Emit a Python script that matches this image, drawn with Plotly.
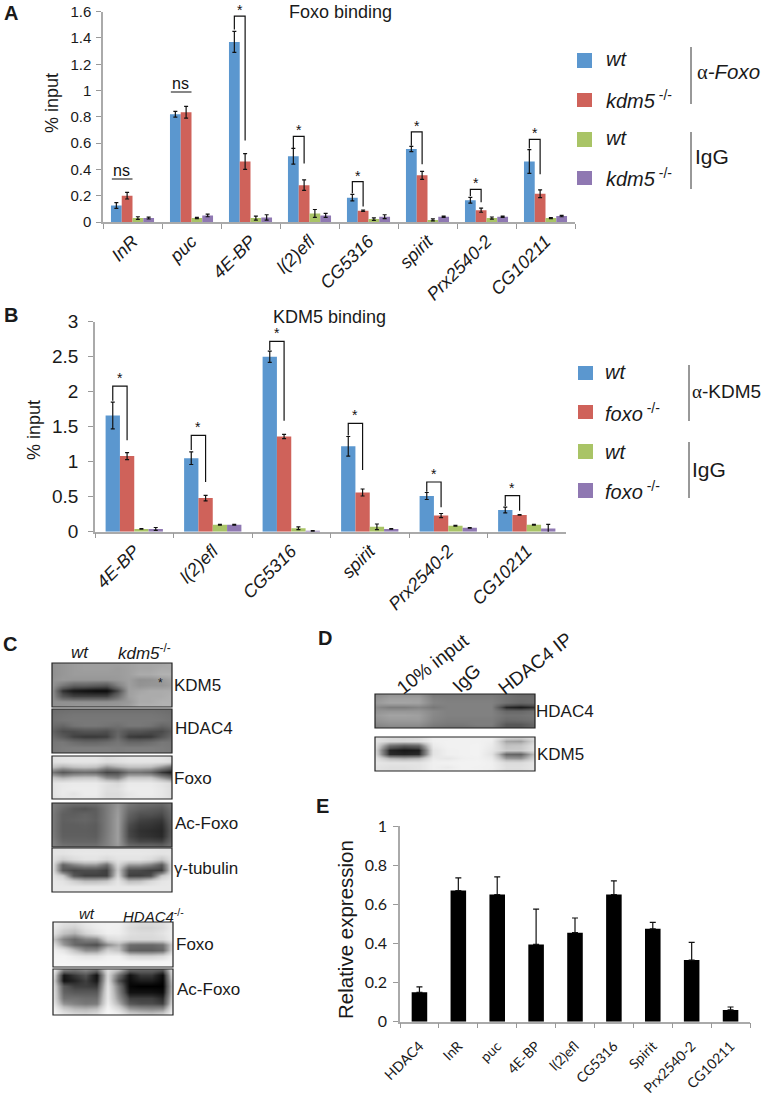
import plotly.graph_objects as go

W, H = 767, 1099
BLUE, RED, GREEN, PURPLE = "#5b97cf", "#cf625a", "#a9c466", "#8f78b2"
ARIAL = "Liberation Sans"
NARROW = "Liberation Sans Narrow, Liberation Sans"
CAL = "Lato"
BARGAP = 0.27

# ---------- Panel A ----------
a_genes = ["InR", "puc", "4E-BP", "l(2)efl", "CG5316", "spirit", "Prx2540-2", "CG10211"]
a_wt = [0.125, 0.82, 1.37, 0.50, 0.185, 0.555, 0.165, 0.46]
a_wt_err = [0.022, 0.022, 0.08, 0.06, 0.025, 0.02, 0.022, 0.09]
a_ko = [0.20, 0.835, 0.46, 0.28, 0.085, 0.355, 0.09, 0.215]
a_ko_err = [0.025, 0.045, 0.06, 0.04, 0.005, 0.03, 0.016, 0.03]
a_igg_wt = [0.03, 0.03, 0.03, 0.065, 0.022, 0.016, 0.03, 0.03]
a_igg_wt_err = [0.01, 0.005, 0.015, 0.03, 0.01, 0.008, 0.008, 0.004]
a_igg_ko = [0.03, 0.05, 0.035, 0.05, 0.04, 0.04, 0.04, 0.045]
a_igg_ko_err = [0.007, 0.01, 0.02, 0.015, 0.015, 0.005, 0.005, 0.005]
# gene index, bracket top, left leg end, right leg end
a_brackets = [(2, 1.567, 1.465, 0.62), (3, 0.652, 0.56, 0.446), (4, 0.307, 0.218, 0.117),
              (5, 0.685, 0.58, 0.44), (6, 0.248, 0.198, 0.15), (7, 0.629, 0.56, 0.363)]
a_ns = [(0, 0.327), (1, 0.989)]

# ---------- Panel B ----------
b_genes = ["4E-BP", "l(2)efl", "CG5316", "spirit", "Prx2540-2", "CG10211"]
b_wt = [1.66, 1.05, 2.50, 1.22, 0.51, 0.31]
b_wt_err = [0.19, 0.09, 0.08, 0.14, 0.05, 0.04]
b_ko = [1.08, 0.48, 1.36, 0.56, 0.23, 0.24]
b_ko_err = [0.05, 0.04, 0.03, 0.05, 0.03, 0.005]
b_igg_wt = [0.04, 0.10, 0.05, 0.07, 0.085, 0.10]
b_igg_wt_err = [0.005, 0.005, 0.02, 0.04, 0.005, 0.005]
b_igg_ko = [0.04, 0.10, 0.01, 0.04, 0.055, 0.045]
b_igg_ko_err = [0.02, 0.005, 0.004, 0.005, 0.005, 0.06]
b_brackets = [(0, 2.08, 1.87, 1.305), (1, 1.376, 1.167, 0.71), (2, 2.72, 2.595, 1.586),
              (3, 1.548, 1.376, 0.88), (4, 0.71, 0.571, 0.348), (5, 0.514, 0.367, 0.30)]

# ---------- Panel E ----------
e_genes = ["HDAC4", "InR", "puc", "4E-BP", "l(2)efl", "CG5316", "Spirit", "Prx2540-2", "CG10211"]
e_values = [0.15, 0.67, 0.65, 0.395, 0.455, 0.65, 0.475, 0.315, 0.06]
e_errors = [0.028, 0.065, 0.09, 0.18, 0.075, 0.07, 0.033, 0.09, 0.015]

# ---------- Blot densities (0 dark - 255 light), read by eye ----------
blot_kdm5 = [
    [122, 128, 132, 135, 135, 135, 135, 136, 140, 140, 140, 145],
    [122, 128, 132, 135, 135, 135, 132, 136, 140, 140, 145, 145],
    [122, 128, 132, 132, 132, 132, 132, 136, 145, 145, 150, 150],
    [125, 130, 128, 128, 128, 128, 130, 135, 122, 124, 130, 140],
    [125, 100, 80, 80, 75, 70, 108, 135, 125, 128, 128, 135],
    [122, 40, 20, 15, 10, 10, 55, 135, 140, 145, 145, 145],
    [122, 68, 52, 52, 52, 52, 88, 135, 145, 145, 145, 150],
    [122, 122, 122, 122, 122, 122, 125, 130, 145, 145, 150, 150],
    [122, 124, 128, 130, 130, 130, 130, 135, 150, 150, 150, 150]]
blot_hdac4 = [
    [88, 90, 92, 92, 92, 92, 92, 92, 92, 92, 90, 88],
    [92, 96, 98, 98, 98, 98, 98, 98, 98, 98, 96, 92],
    [94, 98, 100, 100, 100, 100, 100, 100, 100, 100, 98, 94],
    [90, 82, 96, 100, 100, 96, 92, 100, 100, 96, 82, 90],
    [80, 60, 60, 66, 66, 62, 82, 66, 66, 60, 58, 76],
    [90, 72, 52, 46, 46, 50, 86, 48, 44, 46, 66, 88],
    [98, 100, 90, 84, 84, 90, 98, 84, 84, 90, 100, 98],
    [100, 104, 106, 106, 106, 106, 104, 106, 106, 106, 104, 100],
    [100, 104, 106, 106, 106, 106, 104, 106, 106, 106, 104, 100]]
blot_foxo = [
    [205, 210, 212, 212, 212, 200, 208, 212, 212, 212, 210, 200],
    [200, 205, 208, 208, 208, 196, 200, 206, 206, 206, 204, 195],
    [170, 150, 165, 170, 165, 130, 150, 165, 165, 160, 130, 90],
    [100, 70, 85, 90, 85, 55, 60, 95, 95, 85, 45, 25],
    [170, 150, 165, 170, 170, 120, 110, 170, 170, 170, 130, 90],
    [205, 212, 215, 215, 215, 200, 190, 215, 215, 215, 205, 190],
    [205, 215, 218, 218, 218, 200, 200, 218, 218, 218, 210, 195],
    [205, 215, 205, 218, 218, 195, 195, 210, 218, 218, 210, 195],
    [200, 210, 212, 212, 212, 195, 195, 212, 212, 212, 208, 195]]
blot_acfoxo = [
    [105, 95, 90, 90, 90, 105, 125, 100, 90, 90, 85, 100],
    [105, 85, 70, 65, 75, 103, 130, 90, 80, 75, 70, 95],
    [103, 77, 75, 80, 75, 103, 133, 80, 63, 63, 57, 90],
    [103, 77, 80, 83, 77, 103, 135, 70, 53, 50, 45, 85],
    [103, 75, 75, 77, 73, 103, 135, 60, 45, 43, 37, 80],
    [103, 75, 75, 75, 73, 103, 135, 55, 40, 37, 33, 77],
    [105, 77, 77, 77, 75, 105, 135, 57, 43, 40, 35, 80],
    [110, 85, 83, 83, 83, 107, 135, 70, 57, 57, 53, 90],
    [110, 97, 95, 95, 95, 110, 130, 93, 90, 90, 85, 100]]
blot_tubulin = [
    [205, 205, 208, 208, 208, 208, 208, 208, 208, 208, 205, 205],
    [208, 205, 210, 212, 212, 210, 212, 212, 212, 210, 205, 208],
    [205, 180, 195, 205, 205, 190, 205, 205, 205, 195, 170, 205],
    [205, 80, 110, 130, 130, 90, 190, 130, 130, 110, 70, 205],
    [205, 70, 55, 60, 60, 50, 175, 60, 58, 50, 50, 205],
    [208, 175, 70, 50, 50, 50, 190, 50, 50, 60, 170, 208],
    [212, 205, 180, 160, 160, 170, 208, 160, 165, 190, 208, 212],
    [212, 212, 212, 212, 212, 212, 212, 212, 212, 212, 212, 212],
    [212, 212, 212, 212, 212, 212, 212, 212, 212, 212, 212, 212]]
blot_foxo2 = [
    [225, 205, 200, 215, 222, 225, 225, 205, 195, 195, 200, 222],
    [215, 190, 180, 205, 218, 225, 222, 195, 185, 185, 195, 222],
    [205, 165, 150, 185, 205, 222, 220, 200, 195, 195, 205, 222],
    [170, 110, 85, 110, 115, 190, 200, 190, 190, 190, 195, 222],
    [205, 130, 85, 70, 60, 120, 150, 90, 85, 85, 95, 190],
    [225, 205, 160, 120, 120, 180, 165, 80, 75, 75, 85, 200],
    [230, 230, 215, 205, 205, 222, 222, 190, 185, 185, 195, 228],
    [232, 232, 230, 230, 230, 232, 232, 230, 230, 230, 230, 232],
    [235, 235, 235, 235, 235, 235, 235, 235, 235, 235, 235, 235]]
blot_acfoxo2 = [
    [225, 120, 105, 120, 100, 200, 170, 90, 85, 85, 75, 220],
    [205, 20, 45, 65, 15, 190, 90, 15, 45, 45, 10, 210],
    [190, 15, 30, 50, 20, 195, 60, 10, 25, 25, 5, 190],
    [200, 70, 50, 50, 45, 205, 100, 5, 0, 0, 0, 180],
    [205, 80, 70, 70, 70, 210, 110, 15, 15, 15, 10, 185],
    [205, 95, 95, 90, 90, 212, 125, 50, 50, 50, 35, 195],
    [215, 125, 110, 100, 105, 220, 150, 70, 60, 60, 50, 210],
    [230, 180, 160, 155, 165, 232, 195, 135, 125, 120, 125, 225],
    [240, 215, 200, 195, 205, 240, 230, 195, 185, 180, 195, 238]]
blot_d_hdac4 = [
    [115, 125, 125, 125, 100, 100, 100, 100, 100, 95, 85, 85],
    [125, 135, 135, 135, 108, 105, 105, 105, 105, 95, 90, 90],
    [130, 140, 140, 138, 112, 108, 108, 108, 108, 95, 85, 90],
    [118, 105, 105, 112, 100, 108, 108, 108, 108, 35, 25, 40],
    [125, 128, 128, 128, 115, 108, 108, 108, 108, 85, 85, 95],
    [130, 138, 138, 135, 115, 108, 108, 108, 108, 95, 95, 100],
    [125, 132, 132, 132, 112, 105, 105, 105, 105, 88, 90, 95],
    [115, 122, 122, 122, 105, 100, 100, 105, 105, 70, 70, 85],
    [105, 110, 110, 110, 95, 90, 90, 95, 95, 65, 65, 80]]
blot_d_kdm5 = [
    [205, 195, 190, 195, 222, 222, 225, 225, 225, 190, 185, 205],
    [205, 190, 190, 195, 222, 225, 225, 225, 220, 140, 135, 190],
    [200, 90, 70, 80, 215, 225, 225, 228, 215, 165, 170, 205],
    [190, 30, 20, 25, 205, 222, 225, 228, 210, 175, 175, 205],
    [195, 35, 30, 35, 205, 222, 225, 228, 205, 85, 80, 170],
    [205, 150, 140, 150, 215, 210, 222, 225, 215, 130, 125, 190],
    [210, 205, 205, 205, 222, 225, 228, 228, 222, 195, 195, 210],
    [205, 200, 200, 205, 222, 215, 228, 225, 222, 200, 200, 210],
    [205, 198, 198, 205, 222, 225, 228, 228, 220, 195, 195, 210]]

blots = [
    (blot_kdm5, 52, 172, 663, 707),
    (blot_hdac4, 52, 172, 709, 753),
    (blot_foxo, 52, 172, 756, 799),
    (blot_acfoxo, 52, 172, 803, 847),
    (blot_tubulin, 52, 172, 848, 892),
    (blot_foxo2, 53, 173, 922, 967),
    (blot_acfoxo2, 53, 173, 969, 1015),
    (blot_d_hdac4, 375, 535, 694, 728),
    (blot_d_kdm5, 375, 535, 737, 771),
]


def px(x):
    return x / W


def py(y):
    return 1 - y / H


fig = go.Figure()
layout = dict(
    width=W, height=H, margin=dict(l=0, r=0, t=0, b=0, pad=0), autosize=False,
    paper_bgcolor="white", plot_bgcolor="white", showlegend=False,
    font=dict(family=ARIAL, color="#1a1a1a"),
    barmode="group", bargap=BARGAP, template="none",
)
annotations, shapes = [], []


def text(x, y, s, size=15, family=ARIAL, anchor="left", angle=0, color="#1a1a1a"):
    annotations.append(dict(
        x=px(x), y=py(y), xref="paper", yref="paper", text=s, showarrow=False,
        xanchor=anchor, yanchor="middle", textangle=angle,
        font=dict(size=size, family=family, color=color)))


def bars(cats, series, xa, ya):
    colors = [BLUE, RED, GREEN, PURPLE]
    for (vals, errs), c in zip(series, colors):
        fig.add_trace(go.Bar(
            x=cats, y=vals, marker=dict(color=c, line=dict(width=0)),
            error_y=dict(type="data", array=errs, color="#111", thickness=1.2, width=2),
            xaxis=xa, yaxis=ya))


def axis_pair(i, xd, yd, yrange, tickvals, ytick_font, xtick_font, angle=-45, xoff=0, yoff=0):
    sfx = "" if i == 1 else str(i)
    layout["xaxis" + sfx] = dict(
        domain=[px(xd[0]), px(xd[1])], anchor="y" + sfx, type="category", automargin=False,
        tickson="boundaries", ticks="outside", ticklen=5, tickcolor="#999",
        showline=True, linecolor="#aaa", linewidth=1.5, showgrid=False, ticklabelstandoff=xoff,
        tickangle=angle, tickfont=xtick_font, zeroline=False)
    layout["yaxis" + sfx] = dict(
        domain=[py(yd[1]), py(yd[0])], anchor="x" + sfx, range=yrange, automargin=False,
        tickmode="array", tickvals=tickvals, ticktext=[f"{v:g}" for v in tickvals],
        ticks="outside", ticklen=5, tickcolor="#999", showline=True, linecolor="#aaa",
        ticklabelstandoff=yoff,
        linewidth=1.5, showgrid=False, zeroline=False, tickfont=ytick_font)


def brackets(rows, w, xa, ya, star_dy):
    for i, top, left, right in rows:
        x0, x1 = i - 1.5 * w, i - 0.5 * w
        shapes.append(dict(
            type="path", xref=xa, yref=ya,
            path=f"M {x0} {left} L {x0} {top} L {x1} {top} L {x1} {right}",
            line=dict(color="#111", width=1.2)))
        annotations.append(dict(
            x=i - w, y=top, xref=xa, yref=ya, text="*", showarrow=False,
            yshift=star_dy, font=dict(size=14, family=ARIAL, color="#111")))


wb_all = (1 - BARGAP) / 4

# Panel A chart
cats_a = [f"<i>{g}</i>" for g in a_genes]
bars(cats_a, [(a_wt, a_wt_err), (a_ko, a_ko_err), (a_igg_wt, a_igg_wt_err), (a_igg_ko, a_igg_ko_err)], "x", "y")
axis_pair(1, (103, 575), (11.7, 222), [0, 1.6], [0, .2, .4, .6, .8, 1, 1.2, 1.4, 1.6],
          dict(size=15, family=NARROW), dict(size=18, family=ARIAL), yoff=2)
brackets(a_brackets, wb_all, "x", "y", 6)
for i, y in a_ns:
    shapes.append(dict(type="line", xref="x", yref="y", x0=i - 0.35, x1=i, y0=y, y1=y,
                       line=dict(color="#111", width=1.2)))
    annotations.append(dict(x=i - 0.18, y=y, xref="x", yref="y", text="ns", showarrow=False, yshift=9,
                            font=dict(size=16, family=NARROW, color="#111")))

# Panel B chart
cats_b = [f"<i>{g}</i>" for g in b_genes]
bars(cats_b, [(b_wt, b_wt_err), (b_ko, b_ko_err), (b_igg_wt, b_igg_wt_err), (b_igg_ko, b_igg_ko_err)], "x2", "y2")
axis_pair(2, (95, 566), (321.7, 531.7), [0, 3], [0, .5, 1, 1.5, 2, 2.5, 3],
          dict(size=19, family=NARROW), dict(size=18, family=ARIAL), yoff=6)
brackets(b_brackets, wb_all, "x2", "y2", 8)

# Panel E chart
fig.add_trace(go.Bar(
    x=e_genes, y=e_values, marker=dict(color="black", line=dict(width=0)), width=0.4,
    error_y=dict(type="data", symmetric=False, array=e_errors, arrayminus=[0] * len(e_errors),
                 color="#111", thickness=1.2, width=3),
    xaxis="x3", yaxis="y3"))
axis_pair(3, (400, 750), (826, 1021.7), [0, 1], [0, .2, .4, .6, .8, 1],
          dict(size=16, family=CAL), dict(size=14, family=CAL), xoff=9, yoff=3)

# Blots as heatmaps on their own hidden axes
for n, (z, x0, x1, y0, y1) in enumerate(blots, start=4):
    fig.add_trace(go.Heatmap(
        z=z[::-1], colorscale="Greys_r", zmin=0, zmax=255, showscale=False, zsmooth="best",
        hoverinfo="skip", xaxis=f"x{n}", yaxis=f"y{n}"))
    layout[f"xaxis{n}"] = dict(domain=[px(x0), px(x1)], anchor=f"y{n}", visible=False, range=[0, 11], automargin=False)
    layout[f"yaxis{n}"] = dict(domain=[py(y1), py(y0)], anchor=f"x{n}", visible=False, range=[0, 8], automargin=False)
    shapes.append(dict(type="rect", xref="paper", yref="paper", x0=px(x0), x1=px(x1), y0=py(y1), y1=py(y0),
                       line=dict(color="#222", width=1.2), layer="above"))

# Panel letters
for s, x, y in [("A", 11, 13), ("B", 11, 315), ("C", 10, 644), ("D", 325, 638), ("E", 322, 806)]:
    text(x, y, f"<b>{s}</b>", 20, ARIAL, "center")

# Titles and axis labels
text(340, 12, "Foxo binding", 18, NARROW, "center")
text(329, 317, "KDM5 binding", 18, NARROW, "center")
text(52, 103, "% input", 18, ARIAL, "center", -90)
text(34, 430, "% input", 18, ARIAL, "center", -90)
text(345, 930, "Relative expression", 20.5, ARIAL, "center", -90)

# Legend A
sq = [(53, 68, BLUE), (93, 107, RED), (132, 147, GREEN), (171, 185, PURPLE)]
for y0, y1, c in sq:
    shapes.append(dict(type="rect", xref="paper", yref="paper", x0=px(577), x1=px(592), y0=py(y1), y1=py(y0),
                       fillcolor=c, line=dict(width=0)))
text(604, 59, "<i>wt</i>", 20)
text(604, 99, "<i>kdm5</i><sup> -/-</sup>", 20)
text(604, 138, "<i>wt</i>", 20)
text(604, 178, "<i>kdm5</i><sup> -/-</sup>", 20)
for y0, y1 in [(47, 104), (132, 189)]:
    shapes.append(dict(type="line", xref="paper", yref="paper", x0=px(691), x1=px(691), y0=py(y0), y1=py(y1),
                       line=dict(color="#333", width=1)))
text(695, 71, "<span style='font-family:Liberation Serif'>α</span><i>-Foxo</i>", 20.5)
text(693, 157, "IgG", 21)

# Legend B
sq = [(366, 380, BLUE), (405, 419, RED), (444, 459, GREEN), (483, 498, PURPLE)]
for y0, y1, c in sq:
    shapes.append(dict(type="rect", xref="paper", yref="paper", x0=px(578), x1=px(593), y0=py(y1), y1=py(y0),
                       fillcolor=c, line=dict(width=0)))
text(603, 372, "<i>wt</i>", 20)
text(603, 412, "<i>foxo</i><sup> -/-</sup>", 20)
text(603, 452, "<i>wt</i>", 20)
text(603, 490, "<i>foxo</i><sup> -/-</sup>", 20)
for y0, y1 in [(365, 421), (442, 498)]:
    shapes.append(dict(type="line", xref="paper", yref="paper", x0=px(689), x1=px(689), y0=py(y0), y1=py(y1),
                       line=dict(color="#333", width=1)))
text(690, 391, "<span style='font-family:Liberation Serif'>α</span>-KDM5", 19)
text(690, 470, "IgG", 21)

# Panel C labels
text(80, 652, "<i>wt</i>", 17, ARIAL, "center")
text(144, 652, "<i>kdm5</i><sup>-/-</sup>", 17, ARIAL, "center")
text(160, 683, "*", 12, ARIAL, "center")
for s, x, y in [("KDM5", 172, 685), ("HDAC4", 173, 728), ("Foxo", 172, 778), ("Ac-Foxo", 173, 823),
                ("γ-tubulin", 172, 868), ("Foxo", 174, 944), ("Ac-Foxo", 175, 989)]:
    text(x, y, s, 17)
text(87, 913, "<i>wt</i>", 15, ARIAL, "center")
text(153, 915, "<i>HDAC4</i><sup>-/-</sup>", 15, ARIAL, "center")

# Panel D labels
text(432, 664, "10% input", 19, ARIAL, "center", -38)
text(466, 678, "IgG", 19, ARIAL, "center", -45)
text(535, 663, "HDAC4 IP", 19, ARIAL, "center", -38)
text(534, 711, "HDAC4", 17)
text(535, 754, "KDM5", 17)

layout["annotations"] = annotations
layout["shapes"] = shapes
fig.update_layout(**layout)
fig.write_html("out.html", config={"displayModeBar": False},
               post_script="document.body.style.margin='0';document.body.style.overflow='hidden';")
